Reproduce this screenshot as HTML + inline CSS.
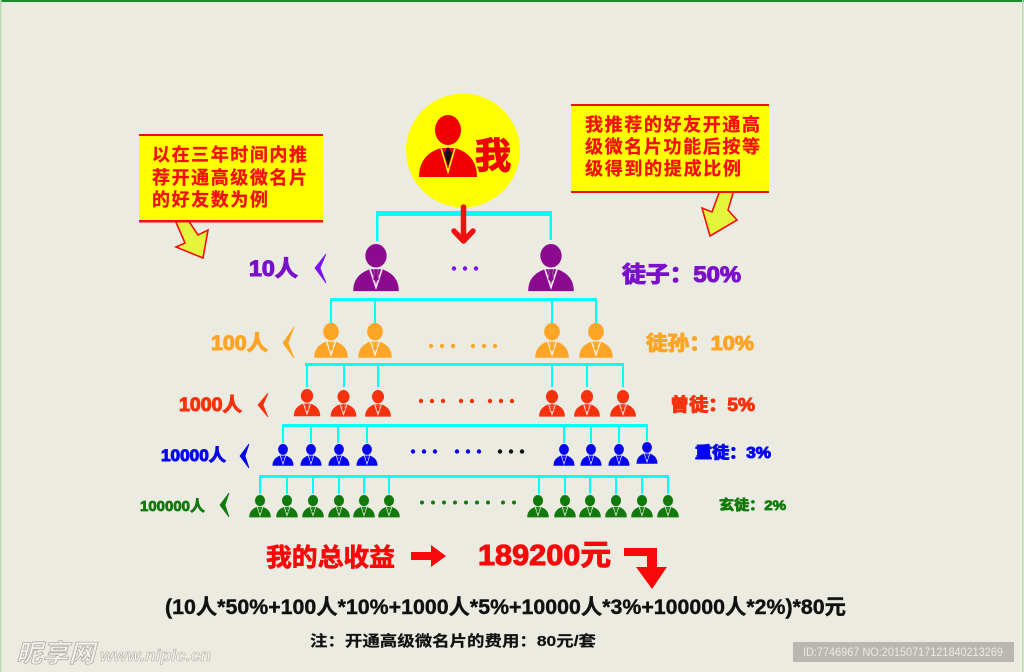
<!DOCTYPE html>
<html><head><meta charset="utf-8">
<style>
html,body{margin:0;padding:0;background:#ecebe2}
svg{display:block}
text{font-family:"Liberation Sans","Noto Sans CJK SC",sans-serif;font-weight:700}
</style></head>
<body>
<svg width="1024" height="672" viewBox="0 0 1024 672" xmlns="http://www.w3.org/2000/svg">
<defs>
<g id="p">
<ellipse cx="0" cy="15.500" rx="14" ry="15.500"/>
<path d="M-30 62C-30 47-22 38-8 33H8C22 38 30 47 30 62Z"/>
<path d="M-8 33L0 57L8 33" fill="none" stroke="#fff" stroke-width="2.200" opacity=".9"/>
<path d="M-3.500 33H3.500L2 38L4 46L0 51L-4 46L-2 38Z" stroke="#fff" stroke-width=".4"/>
</g>
</defs>
<rect width="1024" height="672" fill="#ecebe2"/>
<rect width="1024" height="2" fill="#1f8a2a"/>
<rect x="0" width="1.500" height="672" fill="#b9dcb4"/>
<rect x="1022" width="1.500" height="672" fill="#b9dcb4"/>

<!-- callouts -->
<path d="M175 220L188 220L198 235L208 230L203 258L176 247L185 243Z" fill="#e4f53c" stroke="#f01010" stroke-width="1.600"/>
<rect x="139" y="135" width="184" height="87" fill="#ffff00"/>
<rect x="139" y="134" width="184" height="2" fill="#f01010"/>
<rect x="139" y="220" width="184" height="2.500" fill="#f01010"/>
<g fill="#f40f0f" font-size="18" stroke="#f40f0f" stroke-width=".3">
<text x="152" y="161" textLength="155">以在三年时间内推</text>
<text x="152" y="184" textLength="155">荐开通高级微名片</text>
<text x="152" y="206" textLength="116">的好友数为例</text>
</g>
<path d="M720 190L734 190L728 210L737 220L710 236L702 208L712 212Z" fill="#e4f53c" stroke="#f01010" stroke-width="1.600"/>
<rect x="571" y="105" width="198" height="87" fill="#ffff00"/>
<rect x="571" y="104" width="198" height="2" fill="#f01010"/>
<rect x="571" y="191" width="198" height="2" fill="#f01010"/>
<g fill="#f40f0f" font-size="18" stroke="#f40f0f" stroke-width=".3">
<text x="585" y="131" textLength="175">我推荐的好友开通高</text>
<text x="585" y="153" textLength="175">级微名片功能后按等</text>
<text x="585" y="175" textLength="156">级得到的提成比例</text>
</g>

<!-- cyan connectors -->
<g fill="#00ffff">
<rect x="376" y="211" width="176" height="5"/><rect x="376" y="211" width="2.500" height="30"/><rect x="549.500" y="211" width="2.500" height="29"/>
<rect x="330" y="298" width="267" height="3"/>
<rect x="330" y="298" width="2" height="25"/><rect x="374" y="298" width="2" height="25"/><rect x="551" y="298" width="2" height="25"/><rect x="595" y="298" width="2" height="25"/>
<rect x="305" y="363" width="319" height="3"/>
<rect x="306" y="363" width="2" height="24"/><rect x="343" y="363" width="2" height="24"/><rect x="377" y="363" width="2" height="24"/><rect x="551" y="363" width="2" height="24"/><rect x="586" y="363" width="2" height="24"/><rect x="622" y="363" width="2" height="24"/>
<rect x="282" y="424" width="366" height="3"/>
<rect x="282" y="424" width="2" height="19"/><rect x="310" y="424" width="2" height="19"/><rect x="337" y="424" width="2" height="19"/><rect x="366" y="424" width="2" height="19"/><rect x="563" y="424" width="2" height="19"/><rect x="590" y="424" width="2" height="19"/><rect x="618" y="424" width="2" height="19"/><rect x="646" y="424" width="2" height="17"/>
<rect x="259" y="475" width="410" height="3"/>
<rect x="259" y="475" width="2" height="19"/><rect x="286" y="475" width="2" height="19"/><rect x="312" y="475" width="2" height="19"/><rect x="338" y="475" width="2" height="19"/><rect x="363" y="475" width="2" height="19"/><rect x="388" y="475" width="2" height="19"/><rect x="538" y="475" width="2" height="19"/><rect x="564" y="475" width="2" height="19"/><rect x="589" y="475" width="2" height="19"/><rect x="615" y="475" width="2" height="19"/><rect x="641" y="475" width="2" height="19"/><rect x="667" y="475" width="2" height="19"/>
</g>

<!-- me -->
<circle cx="463" cy="150.500" r="57" fill="#ffff00"/>
<g fill="#f00000"><ellipse cx="448" cy="130" rx="13" ry="15"/>
<path d="M419 177C419 162 427 152 441 148H455C469 152 477 162 477 177Z"/></g>
<path d="M441 148L448 172L455 148" fill="none" stroke="#ffff00" stroke-width="1.500"/>
<path d="M448 147L452 153L448 166L444 153Z" fill="#111"/>
<text x="475" y="168" font-size="36" fill="#f00000" stroke="#f00000" stroke-width="1.200">我</text>
<path d="M463.500 207V240M454 231L463.500 241L473 231" fill="none" stroke="#ee1111" stroke-width="5.500" stroke-linecap="round" stroke-linejoin="round"/>

<!-- people -->
<g fill="#8b0a90">
<use href="#p" transform="translate(376,244) scale(.76)"/><use href="#p" transform="translate(551,244) scale(.76)"/>
</g>
<g fill="#fca526">
<use href="#p" transform="translate(331,323) scale(.56)"/><use href="#p" transform="translate(375,323) scale(.56)"/><use href="#p" transform="translate(552,323) scale(.56)"/><use href="#p" transform="translate(596,323) scale(.56)"/>
</g>
<g fill="#f5320d">
<use href="#p" transform="translate(307,389) scale(.44)"/><use href="#p" transform="translate(343.500,390) scale(.43)"/><use href="#p" transform="translate(378,390) scale(.43)"/><use href="#p" transform="translate(552,390) scale(.43)"/><use href="#p" transform="translate(587,390) scale(.43)"/><use href="#p" transform="translate(623,390) scale(.43)"/>
</g>
<g fill="#0505f0">
<use href="#p" transform="translate(283,444) scale(.35)"/><use href="#p" transform="translate(311,444) scale(.35)"/><use href="#p" transform="translate(339,444) scale(.35)"/><use href="#p" transform="translate(367,444) scale(.35)"/><use href="#p" transform="translate(564,444) scale(.35)"/><use href="#p" transform="translate(591,444) scale(.35)"/><use href="#p" transform="translate(619,444) scale(.35)"/><use href="#p" transform="translate(647,442) scale(.35)"/>
</g>
<g fill="#127a0c">
<use href="#p" transform="translate(260,495) scale(.36)"/><use href="#p" transform="translate(287,495) scale(.36)"/><use href="#p" transform="translate(313,495) scale(.36)"/><use href="#p" transform="translate(339,495) scale(.36)"/><use href="#p" transform="translate(364,495) scale(.36)"/><use href="#p" transform="translate(389,495) scale(.36)"/><use href="#p" transform="translate(538,495) scale(.36)"/><use href="#p" transform="translate(565,495) scale(.36)"/><use href="#p" transform="translate(590,495) scale(.36)"/><use href="#p" transform="translate(616,495) scale(.36)"/><use href="#p" transform="translate(642,495) scale(.36)"/><use href="#p" transform="translate(668,495) scale(.36)"/>
</g>

<!-- dots -->
<g fill="#7a10f0"><circle cx="454" cy="268.500" r="2.200"/><circle cx="465" cy="268.500" r="2.200"/><circle cx="476" cy="268.500" r="2.200"/></g>
<g fill="#fca526"><circle cx="431" cy="346" r="2.200"/><circle cx="442" cy="346" r="2.200"/><circle cx="453" cy="346" r="2.200"/><circle cx="473" cy="346" r="2.200"/><circle cx="484" cy="346" r="2.200"/><circle cx="495" cy="346" r="2.200"/></g>
<g fill="#f5320d"><circle cx="421" cy="401" r="2.200"/><circle cx="432" cy="401" r="2.200"/><circle cx="443" cy="401" r="2.200"/><circle cx="461" cy="401" r="2.200"/><circle cx="472" cy="401" r="2.200"/><circle cx="490" cy="401" r="2.200"/><circle cx="501" cy="401" r="2.200"/><circle cx="512" cy="401" r="2.200"/></g>
<g fill="#0505f0"><circle cx="413" cy="451.500" r="2.200"/><circle cx="424" cy="451.500" r="2.200"/><circle cx="435" cy="451.500" r="2.200"/><circle cx="457" cy="451.500" r="2.200"/><circle cx="468" cy="451.500" r="2.200"/><circle cx="479" cy="451.500" r="2.200"/></g>
<g fill="#111"><circle cx="500" cy="451.500" r="2.200"/><circle cx="511" cy="451.500" r="2.200"/><circle cx="522" cy="451.500" r="2.200"/></g>
<g fill="#127a0c"><circle cx="422" cy="502.500" r="2"/><circle cx="433" cy="502.500" r="2"/><circle cx="444" cy="502.500" r="2"/><circle cx="455" cy="502.500" r="2"/><circle cx="466" cy="502.500" r="2"/><circle cx="477" cy="502.500" r="2"/><circle cx="488" cy="502.500" r="2"/><circle cx="503" cy="502.500" r="2"/><circle cx="514" cy="502.500" r="2"/></g>

<!-- chevrons -->
<path d="M326 254L315 268L326 283L320 268Z" fill="#7a10f0" stroke="#7a10f0" stroke-width=".8"/>
<path d="M294 327L283 343L294 358L288 343Z" fill="#fca526" stroke="#fca526" stroke-width=".8"/>
<path d="M268 393L258 405L268 417L263 405Z" fill="#f5320d" stroke="#f5320d" stroke-width=".8"/>
<path d="M249 444L240 456L249 468L245 456Z" fill="#0505f0" stroke="#0505f0" stroke-width=".8"/>
<path d="M229 493L220 505L229 517L225 505Z" fill="#127a0c" stroke="#127a0c" stroke-width=".8"/>

<!-- row labels -->
<g fill="#7a10c8" stroke="#7a10c8" stroke-width="1.100"><text x="249" y="276" font-size="22" textLength="49" lengthAdjust="spacingAndGlyphs">10人</text>
<text x="622" y="282" font-size="22" textLength="119" lengthAdjust="spacingAndGlyphs">徒子：50%</text></g>
<g fill="#fca526" stroke="#fca526" stroke-width="1.100"><text x="211" y="350" font-size="21" textLength="57" lengthAdjust="spacingAndGlyphs">100人</text>
<text x="646" y="350" font-size="20" textLength="108" lengthAdjust="spacingAndGlyphs">徒孙：10%</text></g>
<g fill="#f5320d" stroke="#f5320d" stroke-width="1"><text x="179" y="411" font-size="19" textLength="63" lengthAdjust="spacingAndGlyphs">1000人</text>
<text x="670" y="411" font-size="18" textLength="85" lengthAdjust="spacingAndGlyphs">曾徒：5%</text></g>
<g fill="#0505f0" stroke="#0505f0" stroke-width="1"><text x="161" y="461" font-size="17" textLength="65" lengthAdjust="spacingAndGlyphs">10000人</text>
<text x="695" y="458" font-size="16" textLength="76" lengthAdjust="spacingAndGlyphs">重徒：3%</text></g>
<g fill="#127a0c" stroke="#127a0c" stroke-width=".8"><text x="140" y="511" font-size="15" textLength="65" lengthAdjust="spacingAndGlyphs">100000人</text>
<text x="719" y="510" font-size="14" textLength="67" lengthAdjust="spacingAndGlyphs">玄徒：2%</text></g>

<!-- totals -->
<text x="266" y="566" font-size="25" fill="#f80808" stroke="#f80808" stroke-width=".7" textLength="129" lengthAdjust="spacingAndGlyphs">我的总收益</text>
<path d="M411 552H431V545L446 556L431 567V560H411Z" fill="#f80808"/>
<text x="478" y="565" font-size="29" fill="#f80808" stroke="#f80808" stroke-width="1" textLength="133" lengthAdjust="spacingAndGlyphs">189200元</text>
<path d="M624 548H657V567H667L652 589L636 567H647V556H624Z" fill="#f80808"/>
<text x="165" y="614" font-size="21" fill="#111" stroke="#111" stroke-width=".4" textLength="681" lengthAdjust="spacingAndGlyphs">(10人*50%+100人*10%+1000人*5%+10000人*3%+100000人*2%)*80元</text>
<text x="310" y="646" font-size="15" fill="#111" stroke="#111" stroke-width=".2" textLength="286" lengthAdjust="spacingAndGlyphs">注：开通高级微名片的费用：80元/套</text>

<!-- watermarks -->
<text x="16" y="662" font-size="25" font-style="italic" fill="#f2f2ea" stroke="#b0b0a8" stroke-width=".8" textLength="79" lengthAdjust="spacingAndGlyphs">昵享网</text>
<text x="100" y="661" font-size="17" font-style="italic" fill="#f2f2ea" stroke="#b0b0a8" stroke-width=".6" textLength="111" lengthAdjust="spacingAndGlyphs">www.nipic.cn</text>
<rect x="793" y="642" width="221" height="20" fill="#b9b8b0"/>
<text x="803" y="656" font-size="12" fill="#ecebe2" style="font-weight:400" textLength="200" lengthAdjust="spacingAndGlyphs">ID:7746967 NO:20150717121840213269</text>
</svg>
</body></html>
